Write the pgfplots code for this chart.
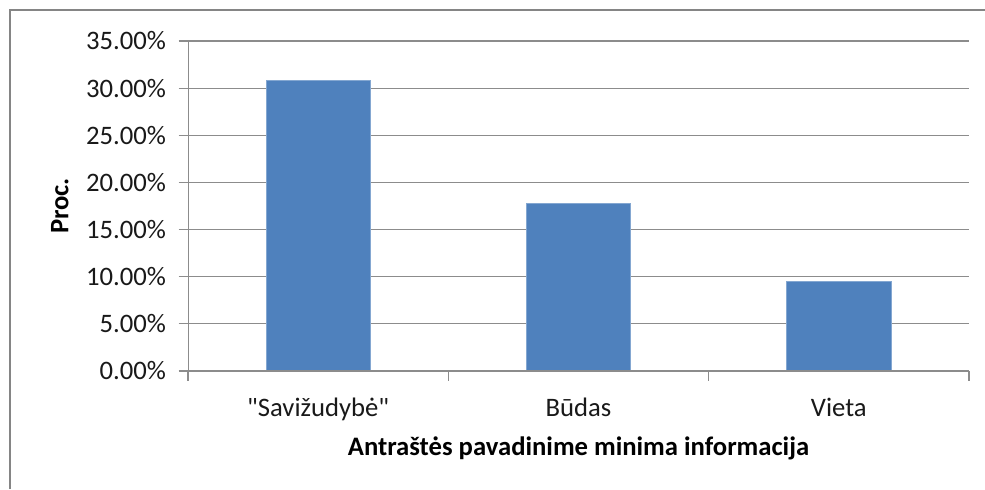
\documentclass[border=0pt]{standalone}
\usepackage{pgfplots}
\pgfplotsset{compat=1.18}
\usepackage{fontspec}
\setmainfont{Carlito}
\definecolor{barblue}{HTML}{4F81BD}
\definecolor{gridgray}{HTML}{8C8C8C}
\definecolor{framegray}{HTML}{858585}
\begin{document}
\begin{tikzpicture}[x=0.75pt,y=0.75pt]
\useasboundingbox (0,0) rectangle (985,489);
\fill[white] (0,0) rectangle (985,489);
\draw[framegray, line width=1.5pt] (9.5,0) -- (9.5,478.5) -- (985,478.5);
\begin{axis}[
  at={(141pt,88.5pt)}, anchor=south west,
  width=585.75pt, height=247.5pt, scale only axis,
  xmin=-0.5, xmax=2.5, ymin=0, ymax=35,
  axis x line*=bottom, axis y line*=left,
  axis line style={draw=none},
  xtick pos=bottom, ytick pos=left,
  ytick={0,5,...,35},
  ymajorgrids, xmajorgrids=false, xminorgrids=false,
  grid style={gridgray, line width=0.9pt},
  xtick={0,1,2},
  xticklabels={\textquotedbl Savižudybė\textquotedbl,Būdas,Vieta},
  minor xtick={-0.5,0.5,1.5,2.5},
  major x tick style={draw=none},
  minor x tick style={gridgray},
  major y tick style={gridgray},
  tick align=outside, major tick length=7pt, minor tick length=7.5pt,
  tick style={line width=0.9pt},
  xticklabel style={yshift=-10pt},
  /pgf/number format/assume math mode=true,
  yticklabel={\pgfmathprintnumber[fixed,fixed zerofill,precision=2]{\tick}\%},
  ticklabel style={font=\fontsize{20}{24}\selectfont, text=black!90},
  yticklabel style={xshift=-6pt},
  xlabel={Antraštės pavadinime minima informacija},
  ylabel={Proc.},
  every axis x label/.style={at={(axis description cs:0.5,0)}, anchor=north, yshift=-46pt,
    font=\bfseries\fontsize{20}{24}\selectfont},
  every axis y label/.style={at={(axis description cs:-0.164,0.5)}, rotate=90, anchor=center,
    font=\bfseries\fontsize{20}{24}\selectfont},
]
\addplot[ybar, bar width=0.4, fill=barblue, draw=barblue!70!white, line width=0.5pt] coordinates {(0,30.8) (1,17.8) (2,9.5)};
\draw[gridgray, line width=0.9pt] (rel axis cs:0,1) -- (rel axis cs:0,0) -- (rel axis cs:1,0);
\end{axis}
\end{tikzpicture}
\end{document}
